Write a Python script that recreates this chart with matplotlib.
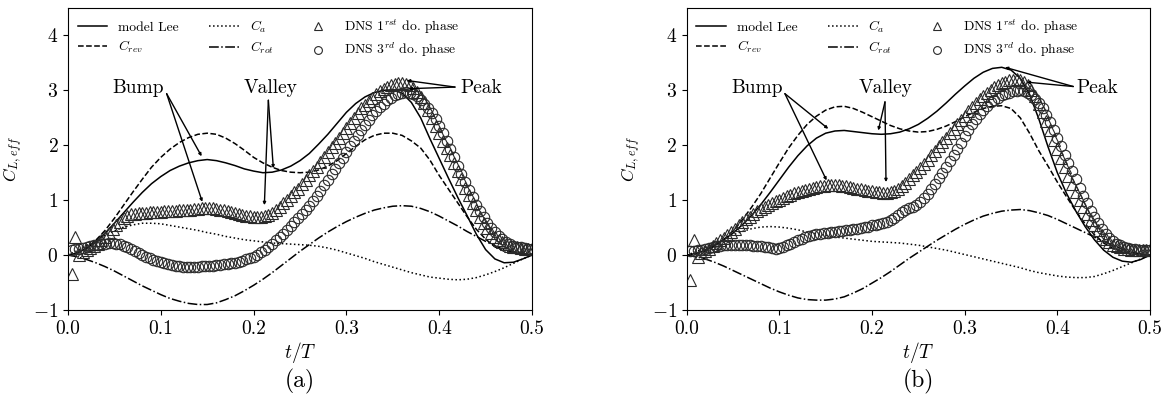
import numpy as np
import matplotlib
matplotlib.use("Agg")
import matplotlib.pyplot as plt

plt.rcParams['font.family'] = 'serif'
plt.rcParams['font.serif'] = ['cmr10']
plt.rcParams['mathtext.fontset'] = 'cm'
plt.rcParams['axes.formatter.use_mathtext'] = True

# model curves, sampled every 0.01 in t/T
t_model = np.round(np.arange(0, 0.501, 0.01), 3)

lee_a = [0.00, 0.04, 0.12, 0.24, 0.40, 0.58, 0.77, 0.96, 1.14, 1.30,
         1.43, 1.54, 1.62, 1.68, 1.72, 1.74, 1.72, 1.68, 1.63, 1.57,
         1.53, 1.50, 1.51, 1.55, 1.62, 1.72, 1.85, 2.02, 2.20, 2.40,
         2.60, 2.76, 2.88, 2.96, 3.00, 3.01, 2.95, 2.78, 2.50, 2.12,
         1.76, 1.40, 1.05, 0.72, 0.38, 0.10, -0.07, -0.14, -0.13, -0.07, 0.00]
rev_a = [0.00, 0.04, 0.13, 0.27, 0.45, 0.67, 0.91, 1.15, 1.38, 1.60,
         1.78, 1.93, 2.05, 2.14, 2.20, 2.22, 2.20, 2.13, 2.03, 1.91,
         1.78, 1.68, 1.60, 1.54, 1.51, 1.50, 1.51, 1.55, 1.62, 1.72,
         1.85, 1.98, 2.10, 2.18, 2.22, 2.22, 2.18, 2.08, 1.95, 1.73,
         1.45, 1.20, 0.95, 0.70, 0.47, 0.29, 0.15, 0.07, 0.03, 0.01, 0.00]
ca_a = [0.00, 0.08, 0.17, 0.27, 0.36, 0.44, 0.51, 0.55, 0.58, 0.58,
        0.57, 0.54, 0.51, 0.48, 0.45, 0.41, 0.38, 0.34, 0.31, 0.28,
        0.26, 0.24, 0.22, 0.21, 0.20, 0.19, 0.18, 0.16, 0.13, 0.09,
        0.04, -0.01, -0.06, -0.12, -0.17, -0.22, -0.27, -0.32, -0.36, -0.40,
        -0.42, -0.44, -0.45, -0.44, -0.41, -0.36, -0.30, -0.23, -0.15, -0.07, 0.00]
rot_a = [0.00, -0.03, -0.08, -0.14, -0.21, -0.29, -0.38, -0.47, -0.56, -0.64,
         -0.72, -0.79, -0.84, -0.88, -0.90, -0.90, -0.87, -0.81, -0.74, -0.65,
         -0.55, -0.44, -0.32, -0.19, -0.06, 0.07, 0.19, 0.31, 0.42, 0.52,
         0.61, 0.69, 0.76, 0.82, 0.86, 0.89, 0.90, 0.89, 0.85, 0.79,
         0.71, 0.62, 0.53, 0.43, 0.34, 0.25, 0.17, 0.10, 0.05, 0.02, 0.00]

lee_b = [0.00, 0.03, 0.09, 0.18, 0.28, 0.40, 0.55, 0.72, 0.92, 1.14,
         1.37, 1.60, 1.81, 1.99, 2.13, 2.22, 2.26, 2.27, 2.25, 2.23,
         2.21, 2.20, 2.21, 2.24, 2.30, 2.38, 2.49, 2.62, 2.77, 2.93,
         3.08, 3.22, 3.33, 3.40, 3.42, 3.37, 3.22, 2.93, 2.48, 1.97,
         1.50, 1.12, 0.80, 0.52, 0.28, 0.09, -0.04, -0.11, -0.13, -0.08, 0.00]
rev_b = [0.00, 0.02, 0.07, 0.16, 0.28, 0.44, 0.64, 0.87, 1.12, 1.40,
         1.68, 1.95, 2.18, 2.38, 2.53, 2.64, 2.70, 2.71, 2.67, 2.60,
         2.52, 2.44, 2.36, 2.30, 2.26, 2.24, 2.25, 2.29, 2.35, 2.43,
         2.52, 2.60, 2.67, 2.71, 2.72, 2.67, 2.50, 2.22, 1.90, 1.62,
         1.33, 1.06, 0.80, 0.57, 0.37, 0.22, 0.12, 0.06, 0.03, 0.01, 0.00]
ca_b = [0.00, 0.06, 0.13, 0.21, 0.29, 0.37, 0.43, 0.48, 0.51, 0.52,
        0.51, 0.49, 0.46, 0.42, 0.39, 0.36, 0.33, 0.31, 0.29, 0.27,
        0.25, 0.24, 0.23, 0.22, 0.20, 0.18, 0.15, 0.12, 0.09, 0.05,
        0.01, -0.03, -0.07, -0.11, -0.15, -0.19, -0.23, -0.28, -0.32, -0.35,
        -0.38, -0.40, -0.41, -0.41, -0.39, -0.34, -0.28, -0.21, -0.14, -0.07, 0.00]
rot_b = [0.00, -0.03, -0.07, -0.13, -0.20, -0.28, -0.36, -0.44, -0.52, -0.60,
         -0.67, -0.73, -0.78, -0.81, -0.82, -0.82, -0.80, -0.76, -0.69, -0.61,
         -0.51, -0.41, -0.30, -0.18, -0.06, 0.05, 0.16, 0.27, 0.37, 0.47,
         0.56, 0.64, 0.71, 0.76, 0.80, 0.82, 0.83, 0.81, 0.77, 0.72,
         0.65, 0.57, 0.49, 0.41, 0.33, 0.25, 0.18, 0.11, 0.06, 0.02, 0.00]

# DNS samples, every 0.004 in t/T
t_dns = np.round(np.arange(1, 126) * 0.004, 3)

tri_a = [-0.35, 0.33, 0.00, 0.05, 0.09, 0.13, 0.17, 0.21, 0.27, 0.33,
         0.40, 0.47, 0.54, 0.61, 0.67, 0.71, 0.74, 0.75, 0.76, 0.77,
         0.77, 0.78, 0.78, 0.79, 0.79, 0.80, 0.80, 0.81, 0.81, 0.82,
         0.82, 0.83, 0.83, 0.84, 0.84, 0.85, 0.85, 0.85, 0.85, 0.84,
         0.83, 0.82, 0.80, 0.78, 0.76, 0.74, 0.73, 0.72, 0.71, 0.70,
         0.70, 0.70, 0.71, 0.73, 0.77, 0.82, 0.88, 0.94, 1.00, 1.07,
         1.14, 1.21, 1.29, 1.37, 1.45, 1.53, 1.61, 1.69, 1.78, 1.87,
         1.96, 2.05, 2.14, 2.23, 2.32, 2.41, 2.50, 2.59, 2.67, 2.74,
         2.81, 2.87, 2.93, 2.98, 3.02, 3.06, 3.09, 3.11, 3.13, 3.13,
         3.12, 3.09, 3.04, 2.97, 2.88, 2.77, 2.64, 2.50, 2.36, 2.22,
         2.08, 1.95, 1.82, 1.68, 1.53, 1.38, 1.23, 1.09, 0.95, 0.82,
         0.70, 0.59, 0.49, 0.40, 0.33, 0.27, 0.23, 0.20, 0.17, 0.15,
         0.14, 0.13, 0.12, 0.12, 0.11]
cir_a = [0.10, 0.11, 0.12, 0.13, 0.15, 0.16, 0.18, 0.19, 0.20, 0.21,
         0.22, 0.22, 0.21, 0.20, 0.17, 0.14, 0.11, 0.07, 0.03, 0.00,
         -0.03, -0.06, -0.09, -0.11, -0.13, -0.15, -0.16, -0.18, -0.19, -0.20,
         -0.21, -0.21, -0.21, -0.21, -0.21, -0.20, -0.20, -0.19, -0.19, -0.18,
         -0.18, -0.17, -0.16, -0.15, -0.14, -0.12, -0.10, -0.08, -0.06, -0.03,
         0.01, 0.05, 0.10, 0.15, 0.21, 0.27, 0.33, 0.39, 0.46, 0.53,
         0.60, 0.67, 0.74, 0.82, 0.90, 0.99, 1.08, 1.17, 1.27, 1.37,
         1.47, 1.57, 1.67, 1.77, 1.88, 1.98, 2.08, 2.18, 2.28, 2.37,
         2.46, 2.55, 2.63, 2.70, 2.76, 2.82, 2.87, 2.91, 2.94, 2.96,
         2.97, 2.96, 2.94, 2.89, 2.83, 2.76, 2.68, 2.58, 2.47, 2.35,
         2.22, 2.08, 1.93, 1.78, 1.63, 1.48, 1.33, 1.19, 1.05, 0.92,
         0.80, 0.69, 0.59, 0.50, 0.42, 0.35, 0.29, 0.24, 0.20, 0.17,
         0.15, 0.14, 0.13, 0.12, 0.12]
tri_b = [-0.45, 0.28, -0.03, 0.04, 0.08, 0.12, 0.17, 0.22, 0.27, 0.32,
         0.37, 0.42, 0.48, 0.54, 0.60, 0.65, 0.70, 0.75, 0.80, 0.84,
         0.88, 0.92, 0.95, 0.98, 1.01, 1.04, 1.07, 1.10, 1.13, 1.15,
         1.17, 1.19, 1.21, 1.23, 1.24, 1.25, 1.26, 1.27, 1.27, 1.27,
         1.27, 1.26, 1.25, 1.24, 1.23, 1.21, 1.20, 1.18, 1.17, 1.16,
         1.15, 1.14, 1.13, 1.13, 1.14, 1.17, 1.21, 1.26, 1.32, 1.38,
         1.45, 1.52, 1.59, 1.66, 1.74, 1.82, 1.90, 1.98, 2.06, 2.14,
         2.22, 2.30, 2.38, 2.46, 2.54, 2.62, 2.70, 2.77, 2.84, 2.90,
         2.96, 3.01, 3.06, 3.10, 3.13, 3.16, 3.18, 3.19, 3.20, 3.19,
         3.16, 3.10, 3.01, 2.89, 2.75, 2.60, 2.44, 2.27, 2.10, 1.93,
         1.76, 1.60, 1.44, 1.29, 1.14, 1.00, 0.87, 0.75, 0.64, 0.54,
         0.45, 0.37, 0.30, 0.24, 0.19, 0.16, 0.14, 0.12, 0.11, 0.10,
         0.10, 0.09, 0.09, 0.09, 0.09]
cir_b = [0.07, 0.08, 0.09, 0.10, 0.12, 0.13, 0.15, 0.16, 0.17, 0.18,
         0.18, 0.19, 0.19, 0.19, 0.19, 0.18, 0.18, 0.17, 0.17, 0.16,
         0.15, 0.14, 0.13, 0.12, 0.13, 0.15, 0.18, 0.21, 0.24, 0.27,
         0.30, 0.33, 0.35, 0.37, 0.38, 0.39, 0.40, 0.41, 0.42, 0.42,
         0.43, 0.44, 0.45, 0.46, 0.47, 0.48, 0.50, 0.51, 0.52, 0.54,
         0.55, 0.57, 0.59, 0.61, 0.64, 0.68, 0.73, 0.78, 0.82, 0.85,
         0.88, 0.92, 0.97, 1.04, 1.12, 1.21, 1.30, 1.40, 1.50, 1.61,
         1.72, 1.83, 1.94, 2.05, 2.16, 2.27, 2.38, 2.48, 2.57, 2.65,
         2.72, 2.78, 2.83, 2.87, 2.91, 2.94, 2.96, 2.98, 2.99, 3.00,
         2.99, 2.96, 2.92, 2.85, 2.77, 2.67, 2.55, 2.42, 2.28, 2.13,
         1.98, 1.83, 1.68, 1.53, 1.38, 1.23, 1.08, 0.94, 0.81, 0.69,
         0.58, 0.48, 0.39, 0.32, 0.26, 0.21, 0.18, 0.15, 0.13, 0.12,
         0.11, 0.10, 0.10, 0.09, 0.09]

fig = plt.figure(figsize=(11.68, 4), dpi=100)
ax_a = fig.add_axes([0.0582, 0.225, 0.3973, 0.755])
ax_b = fig.add_axes([0.5879, 0.225, 0.3967, 0.755])

panels = [
    (ax_a, lee_a, rev_a, ca_a, rot_a, tri_a, cir_a, '(a)',
     [((0.0754, 3.04), 'center', 'Bump', (0.1063, 2.94), [(0.144, 1.80), (0.1447, 0.97)]),
      ((0.218, 3.04), 'center', 'Valley', (0.2159, 2.82), [(0.2213, 1.58), (0.2116, 0.91)]),
      ((0.4224, 3.04), 'left', 'Peak', (0.417, 3.06), [(0.365, 3.18), (0.367, 3.03)])]),
    (ax_b, lee_b, rev_b, ca_b, rot_b, tri_b, cir_b, '(b)',
     [((0.0755, 3.04), 'center', 'Bump', (0.106, 2.94), [(0.1528, 2.30), (0.151, 1.36)]),
      ((0.2151, 3.04), 'center', 'Valley', (0.214, 2.79), [(0.2068, 2.27), (0.2151, 1.33)]),
      ((0.4209, 3.04), 'left', 'Peak', (0.4172, 3.07), [(0.3435, 3.42), (0.3669, 3.15)])]),
]

for ax, lee, rev, ca, rot, tri, cir, tag, notes in panels:
    ax.plot(t_model, lee, '-', color='black', lw=1.1, label='model Lee')
    ax.plot(t_model, rev, '--', color='black', lw=1.1, label=r'$C_{rev}$')
    ax.plot(t_model, ca, ':', color='black', lw=1.1, label=r'$C_a$')
    ax.plot(t_model, rot, '-.', color='black', lw=1.1, label=r'$C_{rot}$')
    ax.plot(t_dns, tri, '^', ms=8, mfc='none', mec='#2a2a2a', mew=0.8, ls='none',
            label=r'DNS $1^{rst}$ do. phase')
    ax.plot(t_dns, cir, 'o', ms=7.5, mfc='none', mec='#2a2a2a', mew=0.8, ls='none',
            label=r'DNS $3^{rd}$ do. phase')

    for pos, ha, word, start, ends in notes:
        ax.text(pos[0], pos[1], word, ha=ha, va='center', fontsize=14)
        for end in ends:
            ax.annotate('', xy=end, xytext=start,
                        arrowprops=dict(arrowstyle='-|>', lw=1.0, color='black',
                                        mutation_scale=4, shrinkA=0, shrinkB=0))

    ax.set_xlim(0, 0.5)
    ax.set_ylim(-1, 4.5)
    ax.set_xticks([0.0, 0.1, 0.2, 0.3, 0.4, 0.5])
    ax.set_xticklabels(['0.0', '0.1', '0.2', '0.3', '0.4', '0.5'])
    ax.set_yticks([-1, 0, 1, 2, 3, 4])
    ax.tick_params(labelsize=14)
    ax.set_xlabel(r'$t/T$', fontsize=14, labelpad=2)
    ax.set_ylabel(r'$C_{L,eff}$', fontsize=12.5, labelpad=6)
    ax.legend(loc='upper left', ncol=3, frameon=False, fontsize=9.8,
              handlelength=2.2, columnspacing=2.2, labelspacing=0.35,
              borderaxespad=0.3, markerscale=0.75)
    ax.text(0.5, -0.235, tag, transform=ax.transAxes, ha='center', va='center',
            fontsize=17)

fig.savefig('out.png', dpi=100)
